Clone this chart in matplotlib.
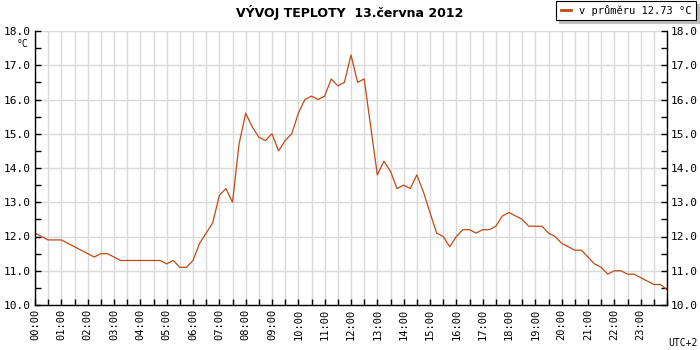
import numpy as np
import matplotlib
matplotlib.use('Agg')
import matplotlib.pyplot as plt
from matplotlib.ticker import MultipleLocator

# 15 minute readings, 00:00 .. 24:00 (hours)
hours = np.arange(0, 24.01, 0.25)
temps = [12.1, 12.0, 11.9, 11.9, 11.9, 11.8, 11.7, 11.6, 11.5, 11.4,
         11.5, 11.5, 11.4, 11.3, 11.3, 11.3, 11.3, 11.3, 11.3, 11.3,
         11.2, 11.3, 11.1, 11.1, 11.3, 11.8, 12.1, 12.4, 13.2, 13.4,
         13.0, 14.7, 15.6, 15.2, 14.9, 14.8, 15.0, 14.5, 14.8, 15.0,
         15.6, 16.0, 16.1, 16.0, 16.1, 16.6, 16.4, 16.5, 17.3, 16.5,
         16.6, 15.2, 13.8, 14.2, 13.9, 13.4, 13.5, 13.4, 13.8, 13.3,
         12.7, 12.1, 12.0, 11.7, 12.0, 12.2, 12.2, 12.1, 12.2, 12.2,
         12.3, 12.6, 12.7, 12.6, 12.5, 12.3, 12.3, 12.3, 12.1, 12.0,
         11.8, 11.7, 11.6, 11.6, 11.4, 11.2, 11.1, 10.9, 11.0, 11.0,
         10.9, 10.9, 10.8, 10.7, 10.6, 10.6, 10.45]
hour_ticks = list(range(24))
hour_labels = ['%02d:00' % h for h in hour_ticks]
temp_ticks = [10, 11, 12, 13, 14, 15, 16, 17, 18]
temp_labels = ['%.1f' % v for v in temp_ticks]
title = 'VÝVOJ TEPLOTY  13.června 2012'
legend_label = 'v průměru 12.73 °C'

LINE_COLOR = '#c04a14'
GRID_COLOR = '#dadada'
MONO = 'DejaVu Sans Mono'

fig = plt.figure(figsize=(7, 3.5), dpi=100)
ax = fig.add_axes([35/700, 1 - 305/350, (667-35)/700, (305-31)/350])

line, = ax.plot(hours, temps, color=LINE_COLOR, lw=0.9, label=legend_label)

ax.set_xlim(0, 24)
ax.set_ylim(10, 18)

# grid: vertical every half hour, horizontal every degree
ax.set_xticks(hour_ticks, hour_labels, rotation=90, family=MONO, fontsize=7.5)
ax.xaxis.set_minor_locator(MultipleLocator(0.5))
ax.set_yticks(temp_ticks, temp_labels, family=MONO, fontsize=8)
ax.yaxis.set_minor_locator(MultipleLocator(0.5))
ax.grid(which='both', axis='x', color=GRID_COLOR, lw=1.0)
ax.grid(which='major', axis='y', color=GRID_COLOR, lw=1.0)
ax.set_axisbelow(True)

ax.tick_params(which='both', direction='in', length=4, width=1, colors='black',
               left=True, right=True, labelright=True, pad=3)
ax.tick_params(axis='x', which='both', length=4, pad=3)

ax.spines['top'].set_visible(False)
for s in ('left', 'right', 'bottom'):
    ax.spines[s].set_linewidth(1.0)

fig.text(0.5, 0.965, title, ha='center', va='center',
         fontsize=9, fontweight='bold', family='DejaVu Sans')
fig.text(22/700, 1 - 44/350, '°C', ha='center', va='center',
         fontsize=7, family=MONO)
fig.text(683/700, 1 - 343/350, 'UTC+2', ha='center', va='center',
         fontsize=7, family=MONO)

leg = fig.legend(handles=[line], loc='upper right', bbox_to_anchor=(697/700, 1.0),
                 frameon=True, fancybox=False,
                 shadow={'color': '#bdbdbd', 'alpha': 1.0}, edgecolor='black',
                 prop={'family': MONO, 'size': 7.5}, handlelength=1.0,
                 borderpad=0.4, handletextpad=0.8, borderaxespad=0.1)
leg.get_frame().set_linewidth(0.8)
leg.get_lines()[0].set_linewidth(2)

fig.savefig('out.png', dpi=100)
